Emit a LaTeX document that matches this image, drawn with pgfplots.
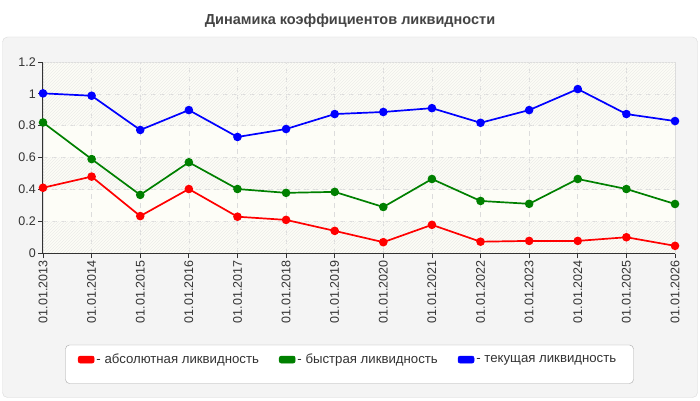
\documentclass[border=0pt]{standalone}
\usepackage{fontspec}
\setmainfont{Liberation Sans}
\usepackage{pgfplots}
\usepackage{pgfplotstable}
\pgfplotsset{compat=1.18}
\usetikzlibrary{patterns}

\definecolor{panelbg}{HTML}{F4F4F4}
\definecolor{panelline}{HTML}{DADADA}
\definecolor{plotbg}{HTML}{FDFDF7}
\definecolor{hatch}{HTML}{EDEDE9}
\definecolor{gridc}{HTML}{DCDCDC}
\definecolor{txt}{HTML}{333333}
\definecolor{ttl}{HTML}{444444}

% coefficients by date: absolute, quick, current
\pgfplotstableread{
x abs quick cur
0  0.410 0.820 1.003
1  0.480 0.590 0.988
2  0.232 0.365 0.773
3  0.402 0.570 0.898
4  0.228 0.402 0.729
5  0.208 0.378 0.779
6  0.139 0.384 0.873
7  0.068 0.289 0.886
8  0.177 0.465 0.910
9  0.071 0.327 0.818
10 0.076 0.309 0.898
11 0.076 0.465 1.030
12 0.099 0.402 0.873
13 0.045 0.308 0.829
}\liq

\begin{document}
\begin{tikzpicture}[x=1pt,y=1pt]
\path[use as bounding box] (0,0) rectangle (700,400);
\fill[white] (0,0) rectangle (700,400);
\draw[panelline,fill=panelbg,rounded corners=5pt] (2.5,2.5) rectangle (697.5,363);
\node[font=\fontsize{14.5}{16}\selectfont\bfseries,text=ttl] at (350,379) {Динамика коэффициентов ликвидности};
\draw[gray!70,fill=white,rounded corners=4pt] (65.5,16.5) rectangle (633.5,55);

\begin{axis}[
  at={(43pt,147pt)}, anchor=south west,
  scale only axis, width=632pt, height=191pt,
  xmin=0, xmax=13, ymin=0, ymax=1.2,
  xtick=data,
  xticklabels={01.01.2013,01.01.2014,01.01.2015,01.01.2016,01.01.2017,01.01.2018,01.01.2019,01.01.2020,01.01.2021,01.01.2022,01.01.2023,01.01.2024,01.01.2025,01.01.2026},
  ytick={0,0.2,0.4,0.6,0.8,1,1.2},
  yticklabels={0,0.2,0.4,0.6,0.8,1,1.2},
  xticklabel style={rotate=90,anchor=east,inner sep=2.5pt},
  yticklabel style={inner sep=2pt},
  tick label style={font=\fontsize{12.5}{14}\selectfont,text=txt},
  tick align=outside, major tick length=5pt,
  tick style={txt,line width=0.8pt},
  xtick pos=bottom, ytick pos=left,
  grid=major,
  major grid style={gridc,dash pattern=on 5pt off 4pt,line width=0.6pt},
  axis line style={gridc,line width=0.8pt},
  axis background/.style={fill=plotbg},
  clip=false,
  legend columns=3,
  legend style={at={(axis description cs:0.055,-0.558)},anchor=west,
    draw=none,fill=none,inner sep=0pt,
    font=\fontsize{13.2}{15}\selectfont,text=txt,
    /tikz/every even column/.append style={column sep=18pt}},
  legend cell align=left,
  every axis plot/.append style={line width=1.7pt,mark=*,mark size=3.4pt},
]
\fill[pattern=north east lines,pattern color=hatch] (axis cs:0,0) rectangle (axis cs:13,0.2);
\fill[pattern=north east lines,pattern color=hatch] (axis cs:0,0.4) rectangle (axis cs:13,0.6);
\fill[pattern=north east lines,pattern color=hatch] (axis cs:0,0.8) rectangle (axis cs:13,1.2);
\addplot[red,legend image code/.code={\draw[red,fill=red,rounded corners=2pt,line width=0.5pt] (0,-3.5pt) rectangle (16pt,3.5pt);}] table[x=x,y=abs] {\liq};
\addlegendentry{- абсолютная ликвидность}
\addplot[green!50!black,legend image code/.code={\draw[green!50!black,fill=green!50!black,rounded corners=2pt,line width=0.5pt] (0,-3.5pt) rectangle (16pt,3.5pt);}] table[x=x,y=quick] {\liq};
\addlegendentry{- быстрая ликвидность}
\addplot[blue,legend image code/.code={\draw[blue,fill=blue,rounded corners=2pt,line width=0.5pt] (0,-3.5pt) rectangle (16pt,3.5pt);}] table[x=x,y=cur] {\liq};
\addlegendentry{- текущая ликвидность}
\draw[txt,line width=1pt] (rel axis cs:0,1) -- (rel axis cs:0,0) -- (rel axis cs:1,0);
\end{axis}
\end{tikzpicture}
\end{document}
